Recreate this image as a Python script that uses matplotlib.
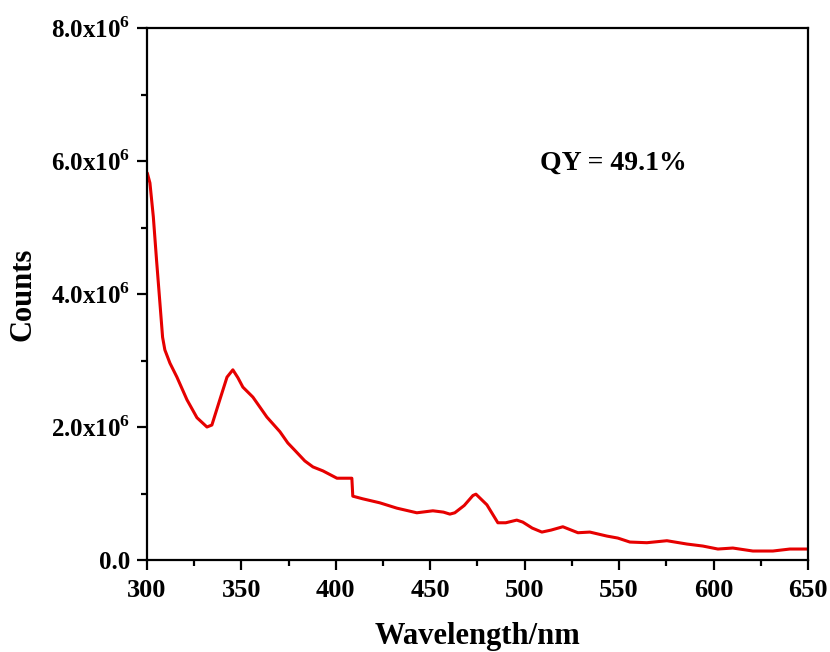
import matplotlib
matplotlib.use("Agg")
import matplotlib.pyplot as plt
from matplotlib.ticker import MultipleLocator, FixedLocator, FixedFormatter

# Emission spectrum (wavelength in nm, intensity in counts)
wavelength = [300.2, 301.6, 303.4, 305.1, 306.9, 308.3, 309.5, 312.2, 315.9,
              321.2, 326.5, 331.8, 334.4, 338.6, 342.4, 345.5, 348.2, 350.8,
              356.1, 363.5, 370.4, 374.6, 378.3, 383.6, 387.9, 393.2, 400.6,
              408.5, 409.0, 414.3, 423.3, 432.3, 442.9, 451.4, 457.0, 460.4,
              463.0, 468.0, 472.6, 474.2, 480.0, 485.8, 490.0, 495.8, 499.0,
              504.0, 509.1, 514.0, 520.2, 528.2, 534.5, 543.5, 549.3, 555.7,
              564.7, 575.3, 585.9, 594.3, 602.3, 610.2, 620.8, 631.4, 640.4,
              649.4, 650.0]
counts = [5.82e6, 5.67e6, 5.16e6, 4.51e6, 3.86e6, 3.35e6, 3.16e6, 2.96e6, 2.75e6,
          2.41e6, 2.14e6, 2.00e6, 2.03e6, 2.41e6, 2.75e6, 2.86e6, 2.74e6, 2.60e6,
          2.45e6, 2.15e6, 1.93e6, 1.76e6, 1.65e6, 1.49e6, 1.40e6, 1.34e6, 1.23e6,
          1.23e6, 0.96e6, 0.92e6, 0.86e6, 0.78e6, 0.71e6, 0.74e6, 0.72e6, 0.69e6,
          0.71e6, 0.82e6, 0.97e6, 0.99e6, 0.83e6, 0.56e6, 0.56e6, 0.60e6, 0.57e6,
          0.48e6, 0.42e6, 0.45e6, 0.50e6, 0.41e6, 0.42e6, 0.36e6, 0.33e6, 0.27e6,
          0.26e6, 0.29e6, 0.24e6, 0.21e6, 0.165e6, 0.18e6, 0.135e6, 0.135e6, 0.165e6,
          0.165e6, 0.165e6]

x_ticks = [300, 350, 400, 450, 500, 550, 600, 650]
y_ticks = [0, 2e6, 4e6, 6e6, 8e6]
y_tick_labels = ["0.0", r"2.0x10$^{\mathbf{6}}$", r"4.0x10$^{\mathbf{6}}$",
                 r"6.0x10$^{\mathbf{6}}$", r"8.0x10$^{\mathbf{6}}$"]
annotation = "QY = 49.1%"

plt.rcParams["font.family"] = ["Liberation Serif", "DejaVu Serif"]
plt.rcParams["font.weight"] = "bold"
plt.rcParams["mathtext.fontset"] = "custom"
plt.rcParams["mathtext.rm"] = "Liberation Serif:bold"
plt.rcParams["mathtext.bf"] = "Liberation Serif:bold"

fig = plt.figure(figsize=(8.3, 6.52), dpi=100, facecolor="white")
ax = fig.add_axes([0.177, 0.1411, 0.7965, 0.8159])

ax.plot(wavelength, counts, color="#e60000", lw=2.2,
        solid_joinstyle="round", solid_capstyle="round")

ax.set_xlim(300, 650)
ax.set_ylim(0, 8e6)
ax.xaxis.set_major_locator(FixedLocator(x_ticks))
ax.xaxis.set_minor_locator(MultipleLocator(25))
ax.yaxis.set_major_locator(FixedLocator(y_ticks))
ax.yaxis.set_major_formatter(FixedFormatter(y_tick_labels))
ax.yaxis.set_minor_locator(MultipleLocator(1e6))

for s in ax.spines.values():
    s.set_linewidth(1.6)
ax.tick_params(which="both", direction="out", width=1.6, top=False, right=False)
ax.tick_params(which="major", length=7)
ax.tick_params(which="minor", length=4)
ax.tick_params(axis="x", which="major", labelsize=19, pad=7)
ax.tick_params(axis="y", which="major", labelsize=18, pad=5)
for lbl in ax.get_xticklabels() + ax.get_yticklabels():
    lbl.set_fontweight("bold")

ax.set_xlabel("Wavelength/nm", fontsize=22, fontweight="bold", labelpad=14)
ax.set_ylabel("Counts", fontsize=22, fontweight="bold", labelpad=10)

ax.text(0.595, 0.746, annotation, transform=ax.transAxes, fontsize=20,
        fontweight="bold", ha="left", va="center")

fig.savefig("out.png", dpi=100, facecolor="white")
